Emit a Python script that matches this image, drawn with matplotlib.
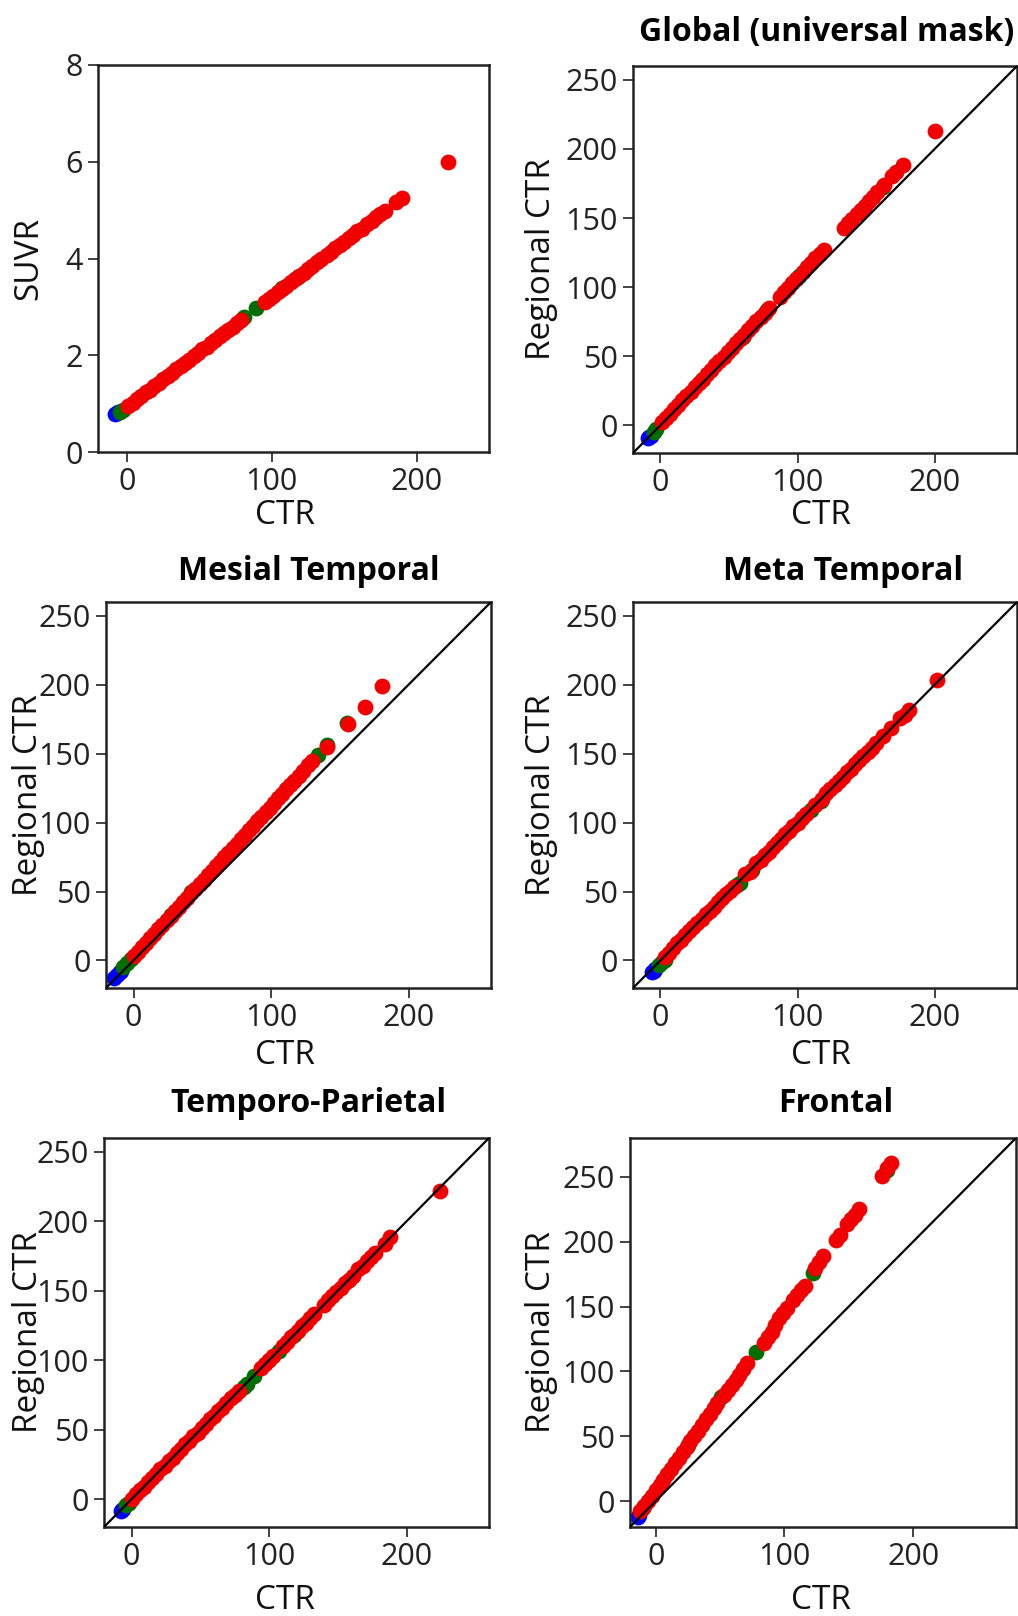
import matplotlib.pyplot as plt

plt.rcParams['font.family'] = ['Open Sans', 'DejaVu Sans']

# ---------------------------------------------------------------------------
# Panel 1: SUVR vs CTR
suvr_blue_x = [-8, -7, -6]
suvr_blue_y = [0.78, 0.80, 0.82]
suvr_green_x = [-5, -3, 81, 89, 107, 118]
suvr_green_y = [0.83, 0.87, 2.79, 2.97, 3.38, 3.62]
suvr_red_x = [1, 4, 7, 10, 13, 16, 19, 22, 25, 28, 31, 34, 37, 40, 43, 46,
              49, 52, 55, 58, 61, 64, 67, 70, 73, 76, 79, 95, 98, 101, 104,
              107, 110, 113, 116, 119, 122, 125, 128, 131, 134, 138, 141, 144,
              147, 150, 153, 156, 159, 162, 166, 169, 172, 175, 178, 186, 190,
              222]
suvr_red_y = [0.95, 1.02, 1.09, 1.16, 1.23, 1.29, 1.36, 1.43, 1.50, 1.57,
              1.64, 1.71, 1.77, 1.84, 1.91, 1.98, 2.05, 2.12, 2.18, 2.25,
              2.32, 2.39, 2.46, 2.53, 2.59, 2.66, 2.73, 3.10, 3.16, 3.23,
              3.30, 3.37, 3.44, 3.51, 3.57, 3.64, 3.71, 3.78, 3.85, 3.92,
              3.99, 4.08, 4.14, 4.21, 4.28, 4.35, 4.42, 4.49, 4.56, 4.62,
              4.71, 4.78, 4.85, 4.92, 4.99, 5.17, 5.26, 6.00]

# Panel 2: Global (universal mask)
glob_blue_x = [-9, -8, -7]
glob_blue_y = [-9.5, -8.5, -7.5]
glob_green_x = [-5, -3, 30, 60, 78, 101, 162]
glob_green_y = [-4.5, -2.5, 33, 64, 83.5, 108, 172.5]
glob_red_x = [1, 4, 7, 10, 13, 16, 19, 22, 25, 28, 31, 34, 37, 40, 43, 46,
              49, 52, 55, 58, 61, 64, 67, 70, 73, 76, 79, 87, 90, 93, 96, 99,
              104, 107, 110, 113, 116, 119, 134, 137, 140, 143, 146, 149, 152,
              155, 158, 163, 169, 172, 177, 200]
glob_red_y = [2.1, 5.2, 8.4, 11.6, 14.8, 18.0, 21.1, 24.3, 27.5, 30.7, 33.9,
              37.0, 40.2, 43.4, 46.6, 49.8, 52.9, 56.1, 59.3, 62.5, 65.7,
              68.8, 72.0, 75.2, 78.4, 81.6, 84.7, 93.2, 96.4, 99.6, 102.8,
              105.9, 111.2, 114.4, 117.6, 120.8, 124.0, 127.1, 143.0, 146.2,
              149.4, 152.6, 155.8, 158.9, 162.1, 165.3, 168.5, 173.8, 180.1,
              183.3, 188.6, 213.0]

# Panel 3: Mesial Temporal
mesial_blue_x = [-14, -12, -10, -9]
mesial_blue_y = [-12.5, -10.5, -8.5, -7.5]
mesial_green_x = [-8, -5, -2, 27, 42, 134, 141, 155]
mesial_green_y = [-5, -2, 1, 33, 50, 149, 156.5, 172]
mesial_red_x = [0, 3, 6, 9, 12, 15, 18, 21, 24, 27, 30, 33, 36, 39, 42, 45,
                48, 51, 54, 57, 60, 63, 66, 69, 72, 75, 78, 81, 84, 87, 90,
                93, 96, 99, 102, 105, 108, 111, 114, 117, 120, 123, 127, 130,
                141, 156, 168, 181]
mesial_red_y = [3.0, 6.3, 9.5, 12.8, 16.1, 19.4, 22.6, 25.9, 29.2, 32.4,
                35.7, 39.0, 42.2, 45.5, 48.8, 52.1, 55.3, 58.6, 61.9, 65.1,
                68.4, 71.7, 74.9, 78.2, 81.5, 84.8, 88.0, 91.3, 94.6, 97.8,
                101.1, 104.4, 107.6, 110.9, 114.2, 117.5, 120.7, 124.0, 127.3,
                130.5, 133.8, 137.1, 141.4, 144.7, 155.0, 171.5, 184.0, 199.0]

# Panel 4: Meta Temporal
meta_blue_x = [-6, -5, -4]
meta_blue_y = [-8.5, -7.5, -6.5]
meta_green_x = [-1, 1, 3, 56, 58, 67, 110, 117]
meta_green_y = [-3, -1.5, 0.5, 54.5, 56, 65.5, 109, 115.5]
meta_red_x = [3, 6, 9, 12, 15, 18, 21, 24, 27, 30, 33, 36, 39, 42, 45, 48,
              51, 54, 62, 65, 70, 73, 76, 79, 82, 85, 88, 91, 94, 97, 100,
              103, 106, 113, 118, 121, 124, 127, 130, 133, 136, 139, 142, 145,
              148, 151, 154, 157, 162, 168, 175, 178, 181, 202]
meta_red_y = [2.5, 5.5, 9.0, 12.5, 15.0, 18.5, 21.0, 24.0, 27.5, 30.0, 33.5,
              36.0, 39.0, 42.5, 45.0, 48.5, 50.5, 53.5, 62.5, 64.5, 70.5,
              73.0, 76.5, 79.0, 82.5, 85.0, 88.0, 91.5, 94.0, 97.5, 100.0,
              103.5, 106.0, 112.5, 117.0, 121.5, 124.0, 127.5, 130.5, 133.0,
              136.5, 139.0, 142.5, 145.5, 148.0, 151.5, 154.0, 157.5, 162.5,
              168.5, 175.5, 178.0, 182.0, 203.5]

# Panel 5: Temporo-Parietal
tp_blue_x = [-8, -7, -6]
tp_blue_y = [-8.5, -7.5, -7]
tp_green_x = [-4, -2, 82, 84, 89, 107, 118]
tp_green_y = [-4.5, -2.5, 81, 83, 88.5, 107, 118]
tp_red_x = [0, 3, 6, 9, 12, 15, 18, 21, 24, 27, 30, 33, 36, 39, 42, 45, 48,
            51, 54, 57, 60, 63, 66, 69, 72, 75, 78, 94, 97, 100, 103, 110,
            113, 116, 121, 124, 127, 130, 133, 140, 143, 146, 149, 152, 155,
            158, 161, 165, 168, 171, 174, 177, 184, 188, 224]
tp_red_y = [0.5, 3.5, 6.5, 9.0, 12.5, 15.5, 18.0, 21.5, 24.0, 27.5, 30.0,
            33.5, 36.0, 39.5, 42.0, 45.5, 48.0, 51.5, 54.0, 57.5, 60.0, 63.5,
            66.0, 69.0, 72.5, 75.0, 78.0, 94.5, 97.5, 100.0, 103.0, 110.5,
            113.0, 116.5, 121.0, 124.5, 127.0, 130.5, 133.0, 140.0, 143.5,
            146.0, 149.5, 152.0, 155.5, 158.0, 161.0, 165.5, 168.0, 171.5,
            174.0, 177.5, 184.0, 188.5, 222.0]

# Panel 6: Frontal
front_blue_x = [-14, -13]
front_blue_y = [-12, -11]
front_green_x = [-10, 25, 51, 78, 122, 180]
front_green_y = [-5.5, 43, 80.5, 115, 176, 255]
front_red_x = [-12, -9, -6, -3, 0, 3, 6, 9, 12, 15, 18, 21, 24, 27, 30, 33,
               36, 39, 42, 45, 48, 53, 56, 59, 62, 65, 68, 71, 84, 87, 90, 93,
               96, 99, 102, 107, 110, 113, 116, 124, 127, 130, 140, 143, 149,
               152, 155, 158, 176, 180, 183]
front_red_y = [-8, -4, 0, 4, 8.5, 12.5, 16.5, 21, 25, 29, 33, 37.5, 41.5, 46,
               50, 54, 59, 63, 67, 72, 76, 82, 86, 89.5, 93.5, 97.5, 102,
               106.5, 122, 126.5, 130.5, 136, 141, 145, 149, 155, 159, 163,
               166, 180, 184.5, 189, 201, 205, 213.5, 217.5, 221, 225, 250.5,
               256.5, 261]

# ---------------------------------------------------------------------------
W, H = 1018, 1616
fig = plt.figure(figsize=(W / 100, H / 100), dpi=100)


def add_axes(left, top, right, bottom):
    return fig.add_axes([left / W, 1 - bottom / H, (right - left) / W,
                         (bottom - top) / H])


regional_ticks = [0, 50, 100, 150, 200, 250]

panels = [
    dict(box=(98, 65, 489, 452),
         data=(suvr_blue_x, suvr_blue_y, suvr_green_x, suvr_green_y,
               suvr_red_x, suvr_red_y),
         xlim=(-20, 250), ylim=(0, 8), yticks=[0, 2, 4, 6, 8],
         ylabel='SUVR', diag=False, ylab=-0.135, xlab=(0.478, -0.121),
         title=None),
    dict(box=(633, 66, 1017, 453),
         data=(glob_blue_x, glob_blue_y, glob_green_x, glob_green_y,
               glob_red_x, glob_red_y),
         xlim=(-20, 260), ylim=(-20, 260), yticks=regional_ticks,
         ylabel='Regional CTR', diag=True, ylab=-0.195, xlab=(0.49, -0.119),
         title=('Global (universal mask)', 827, 41)),
    dict(box=(106, 602, 491, 988),
         data=(mesial_blue_x, mesial_blue_y, mesial_green_x, mesial_green_y,
               mesial_red_x, mesial_red_y),
         xlim=(-20, 260), ylim=(-20, 260), yticks=regional_ticks,
         ylabel='Regional CTR', diag=True, ylab=-0.158, xlab=(0.466, -0.132),
         title=('Mesial Temporal', 309, 580)),
    dict(box=(633, 602, 1017, 988),
         data=(meta_blue_x, meta_blue_y, meta_green_x, meta_green_y,
               meta_red_x, meta_red_y),
         xlim=(-20, 260), ylim=(-20, 260), yticks=regional_ticks,
         ylabel='Regional CTR', diag=True, ylab=-0.195, xlab=(0.49, -0.132),
         title=('Meta Temporal', 843, 580)),
    dict(box=(104, 1138, 489, 1527),
         data=(tp_blue_x, tp_blue_y, tp_green_x, tp_green_y,
               tp_red_x, tp_red_y),
         xlim=(-20, 260), ylim=(-20, 260), yticks=regional_ticks,
         ylabel='Regional CTR', diag=True, ylab=-0.153, xlab=(0.47, -0.147),
         title=('Temporo-Parietal', 308, 1112)),
    dict(box=(630, 1138, 1016, 1527),
         data=(front_blue_x, front_blue_y, front_green_x, front_green_y,
               front_red_x, front_red_y),
         xlim=(-20, 280), ylim=(-20, 280), yticks=regional_ticks,
         ylabel='Regional CTR', diag=True, ylab=-0.186, xlab=(0.495, -0.147),
         title=('Frontal', 836, 1112)),
]

for p in panels:
    ax = add_axes(*p['box'])
    bx, by, gx, gy, rx, ry = p['data']
    ax.scatter(bx, by, s=130, c='#0000ff', linewidths=0, zorder=2)
    ax.scatter(gx, gy, s=130, c='#006e00', linewidths=0, zorder=2)
    ax.scatter(rx, ry, s=130, c='#f20000', linewidths=0, zorder=3)
    if p['diag']:
        ax.plot(p['xlim'], p['ylim'], color='black', lw=1.6, zorder=4)
    ax.set_xlim(*p['xlim'])
    ax.set_ylim(*p['ylim'])
    ax.set_xticks([0, 100, 200])
    ax.set_yticks(p['yticks'])
    ax.tick_params(direction='out', length=7, width=1.2, labelsize=22,
                   pad=4, colors='#222222')
    for sp in ax.spines.values():
        sp.set_linewidth(1.8)
        sp.set_color('#222222')
    ax.set_xlabel('CTR', fontsize=24, color='#111111')
    ax.set_ylabel(p['ylabel'], fontsize=24, color='#111111')
    ax.xaxis.set_label_coords(*p['xlab'])
    ax.yaxis.set_label_coords(p['ylab'], 0.5)
    if p['title']:
        text, tx, ty = p['title']
        fig.text(tx / W, 1 - ty / H, text, ha='center', va='baseline',
                 fontsize=23, fontweight='bold')

fig.savefig('out.png', dpi=100)
